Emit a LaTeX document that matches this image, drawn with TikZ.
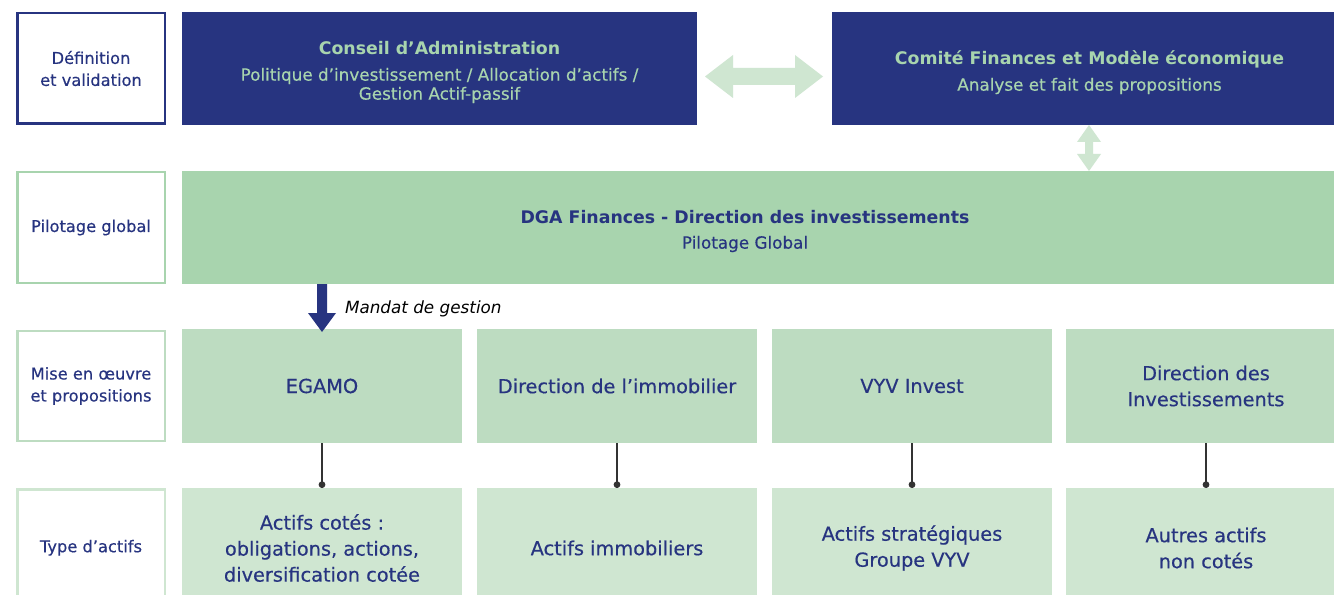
\documentclass[tikz,border=0pt]{standalone}
\usepackage{fontspec}
\setmainfont{DejaVu Sans}[UprightFeatures={FakeBold=0.4}]
\usetikzlibrary{calc,arrows.meta}

\definecolor{navy}{RGB}{39,52,128}
\definecolor{mint}{RGB}{168,212,174}
\definecolor{sage}{RGB}{189,220,193}
\definecolor{pale}{RGB}{207,230,209}
\definecolor{linkgray}{RGB}{51,51,51}

% one unit of the drawing
\newdimen\PX \PX=0.75pt

\newcommand\lblf{\fontsize{12.2}{16.5}\selectfont}
\newcommand\boxf{\fontsize{14.5}{19.5}\selectfont}
\newcommand\ttlf{\fontsize{13}{16}\selectfont\bfseries}
\newcommand\subf{\fontsize{12.6}{14.25}\selectfont}
\newcommand\mandf{\fontsize{12.6}{15}\selectfont}

\begin{document}
\begin{tikzpicture}[x=0.75pt,y=-0.75pt,
  every node/.style={inner sep=0pt, outer sep=0pt},
  rowlbl/.style={draw, line width=2.5\PX, fill=white, minimum width=147.5\PX,
    align=center, text=navy, font=\lblf},
  navybox/.style={fill=navy, minimum width=515\PX, minimum height=113\PX},
  dgabox/.style={fill=mint, minimum width=1164\PX, minimum height=113\PX},
  entity/.style={fill=sage, minimum width=280\PX, minimum height=114\PX,
    align=center, text=navy, font=\boxf},
  asset/.style={fill=pale, minimum width=280\PX, minimum height=120\PX,
    align=center, text=navy, font=\boxf},
  ttl/.style={font=\ttlf, align=center},
  sub/.style={font=\subf, align=center},
  link/.style={draw=linkgray, line width=1.5\PX, -{Circle[length=5pt]}},
]
\useasboundingbox (0,0) rectangle (1334,595);
\clip (0,0) rectangle (1334,595);
\fill[white] (0,0) rectangle (1334,595);

% row labels
\node[rowlbl, draw=navy, minimum height=110.5\PX] (defval) at (91,68.5) {Définition\\et validation};
\node[rowlbl, draw=mint, minimum height=110.5\PX] (pilot) at (91,227.5) {Pilotage global};
\node[rowlbl, draw=sage, minimum height=110\PX] (miseoeuvre) at (91,386) {Mise en œuvre\\et propositions};
\node[rowlbl, draw=pale, minimum height=117\PX] (typeact) at (91,547.75) {Type d’actifs};

% governance bodies
\node[navybox] (conseil) at (439.5,68.5) {};
\node[ttl, text=mint] (conseilT) at ($(conseil.center)+(0,-20.5)$) {Conseil d’Administration};
\node[sub, text=mint] (conseilS) at ($(conseil.center)+(0,17)$)
  {Politique d’investissement / Allocation d’actifs /\\Gestion Actif-passif};

\node[navybox] (comite) at (1089.5,68.5) {};
\node[ttl, text=mint] (comiteT) at ($(comite.center)+(0,-9.5)$) {Comité Finances et Modèle économique};
\node[sub, text=mint] (comiteS) at ($(comite.center)+(0,17.5)$) {Analyse et fait des propositions};

% global steering
\node[dgabox] (dga) at (764,227.5) {};
\node[ttl, text=navy] (dgaT) at ($(dga.center)+(-19,-10.5)$) {DGA Finances - Direction des investissements};
\node[sub, text=navy] (dgaS) at ($(dga.center)+(-19,16.5)$) {Pilotage Global};

% managers
\node[entity] (egamo) at (322,386) {EGAMO};
\node[entity] (immo) at (617,386) {Direction de l’immobilier};
\node[entity] (vyv) at (912,386) {VYV Invest};
\node[entity] (dirinv) at (1206,386) {Direction des\\Investissements};

% asset classes
\node[asset] (cotes) at (322,548) {Actifs cotés :\\obligations, actions,\\diversification cotée};
\node[asset] (immob) at (617,548) {Actifs immobiliers};
\node[asset] (strat) at (912,548) {Actifs stratégiques\\Groupe VYV};
\node[asset] (autres) at (1206,548) {Autres actifs\\non cotés};

\foreach \a/\b in {egamo/cotes, immo/immob, vyv/strat, dirinv/autres}
  \draw[link] (\a) -- (\b);

% two-way exchange between the board and the committee
\coordinate (hL) at ($(conseil.east)+(8,8)$);
\coordinate (hR) at ($(comite.west)+(-9,8)$);
\fill[pale] (hL) -- ($(hL)+(28,-21.5)$) -- ($(hL)+(28,-8.5)$) -- ($(hR)+(-28,-8.5)$)
  -- ($(hR)+(-28,-21.5)$) -- (hR) -- ($(hR)+(-28,21.5)$) -- ($(hR)+(-28,8.5)$)
  -- ($(hL)+(28,8.5)$) -- ($(hL)+(28,21.5)$) -- cycle;

% two-way exchange between the committee and the DGA
\coordinate (vT) at ($(comite.south)+(-0.5,0)$);
\coordinate (vB) at (dga.north -| vT);
\fill[pale] (vT) -- ($(vT)+(12,17)$) -- ($(vT)+(4,17)$) -- ($(vB)+(4,-17)$)
  -- ($(vB)+(12,-17)$) -- (vB) -- ($(vB)+(-12,-17)$) -- ($(vB)+(-4,-17)$)
  -- ($(vT)+(-4,17)$) -- ($(vT)+(-12,17)$) -- cycle;

% management mandate
\coordinate (mT) at (dga.south -| egamo.north);
\coordinate (mB) at ($(egamo.north)+(0,3)$);
\fill[navy] ($(mT)+(-5,0)$) -- ($(mB)+(-5,-19)$) -- ($(mB)+(-14,-19)$) -- (mB)
  -- ($(mB)+(14,-19)$) -- ($(mB)+(5,-19)$) -- ($(mT)+(5,0)$) -- cycle;
\node[anchor=west, font=\mandf\itshape, text=black] (mandat) at (345,309) {Mandat de gestion};
\end{tikzpicture}
\end{document}
